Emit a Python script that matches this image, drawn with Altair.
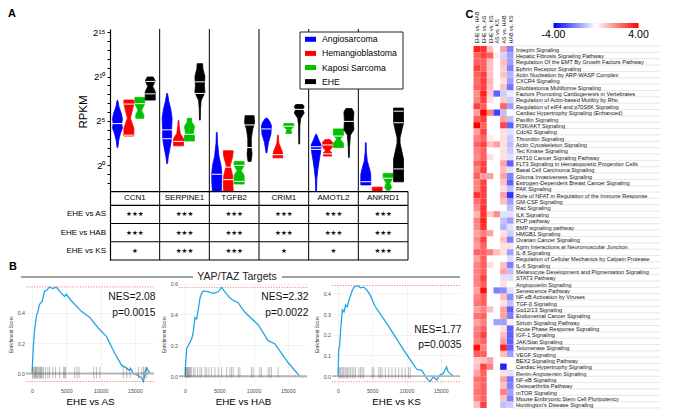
import json
import altair as alt
import pandas as pd

# ======================= Panel A data =======================
GENES = ["CCN1", "SERPINE1", "TGFB2", "CRIM1", "AMOTL2", "ANKRD1"]
GROUPS = ["Angiosarcoma", "Hemangioblastoma", "Kaposi Sarcoma", "EHE"]
GROUP_COLORS = ["#0000ff", "#ff0000", "#00c000", "#000000"]

# violin outlines: one list per group, points (log2 RPKM, relative half-width), top to bottom
VIOLIN_CCN1 = [
    [(7.3, 0.08), (6.6, 0.3), (5.8, 0.8), (5.2, 1.0), (4.7, 0.85), (4.2, 1.0), (3.6, 0.6), (2.8, 0.25), (2.0, 0.08)],
    [(7.35, 1.0), (6.9, 1.0), (5.3, 0.3), (4.2, 1.0), (3.3, 1.0)],
    [(7.65, 1.0), (6.95, 1.0), (6.2, 0.35), (5.7, 0.8), (5.3, 0.8)],
    [(9.95, 0.6), (9.5, 1.0), (8.9, 0.5), (8.3, 1.0), (7.35, 1.0)],
]
VIOLIN_SERPINE1 = [
    [(8.1, 0.08), (7.2, 0.35), (6.3, 0.75), (5.3, 1.0), (4.0, 0.9), (3.0, 0.9), (2.0, 0.6), (1.0, 0.25), (0.2, 0.08)],
    [(5.05, 0.08), (4.5, 0.12), (3.6, 0.35), (3.0, 1.0), (2.2, 1.0)],
    [(5.3, 0.45), (4.9, 0.45), (4.4, 1.0), (3.6, 0.8), (3.3, 1.0), (2.75, 1.0)],
    [(11.45, 0.55), (10.9, 0.6), (10.0, 1.0), (9.0, 0.9), (8.2, 1.0), (7.3, 0.25), (6.3, 0.12), (5.1, 0.08)],
]
VIOLIN_TGFB2 = [
    [(3.7, 0.08), (2.5, 0.15), (1.0, 0.45), (0.0, 0.85), (-0.8, 1.0), (-1.8, 1.0), (-2.9, 0.9)],
    [(1.65, 1.0), (1.0, 0.9), (0.0, 0.4), (-1.2, 0.9), (-2.9, 1.0)],
    [(0.45, 1.0), (0.0, 1.0), (-0.6, 0.4), (-1.1, 1.0), (-2.1, 1.0)],
    [(5.6, 0.9), (4.8, 1.0), (4.0, 0.6), (3.0, 0.35), (2.0, 0.35), (1.3, 0.5), (0.45, 0.3)],
]
VIOLIN_CRIM1 = [
    [(5.3, 0.2), (4.9, 0.7), (4.5, 1.0), (3.5, 0.9), (2.6, 0.4), (1.4, 0.08)],
    [(3.4, 0.08), (2.5, 0.2), (1.5, 0.9), (0.85, 1.0)],
    [(4.7, 1.0), (4.35, 1.0), (4.05, 0.4), (3.6, 0.6)],
    [(6.85, 0.7), (6.6, 1.0), (6.3, 0.7), (5.9, 1.0), (5.3, 0.3), (4.5, 0.12), (2.4, 0.08)],
]
VIOLIN_AMOTL2 = [
    [(3.5, 0.08), (2.9, 0.5), (2.3, 1.0), (1.5, 0.9), (0.5, 0.6), (-0.5, 0.35), (-1.5, 0.15), (-2.9, 0.08)],
    [(2.9, 0.5), (2.6, 1.0), (2.0, 0.9), (1.65, 0.35), (1.45, 0.8), (1.05, 0.8)],
    [(4.1, 1.0), (3.4, 1.0), (2.95, 0.35), (2.5, 1.0), (2.0, 1.0)],
    [(6.4, 0.6), (6.0, 1.0), (5.0, 0.9), (4.0, 1.0), (3.4, 0.3), (2.0, 0.12), (0.9, 0.08)],
]
VIOLIN_ANKRD1 = [
    [(2.56, 0.08), (1.5, 0.12), (0.5, 0.3), (-0.5, 0.8), (-1.0, 1.0), (-2.2, 1.0)],
    [(-2.45, 1.0), (-2.95, 1.0)],
    [(-0.9, 1.0), (-1.45, 1.0), (-2.0, 0.35), (-2.5, 0.7), (-2.8, 0.3)],
    [(6.45, 1.0), (4.8, 1.0), (3.1, 0.3), (2.5, 0.3), (0.7, 1.0), (-1.85, 1.0)],
]
# white median / quartile marks inside the violins (log2 RPKM)
WHITE_CCN1 = [[4.7], [6.9, 3.4], [6.95], [9.45, 8.05]]
WHITE_SERPINE1 = [[4.0, 3.0], [2.7], [3.5], [9.4, 8.1]]
WHITE_TGFB2 = [[-1.0], [-0.2, -1.6], [0.0, -1.8], [4.55, 2.0]]
WHITE_CRIM1 = [[4.1], [1.2], [4.4], [6.3]]
WHITE_AMOTL2 = [[2.1, 1.8], [2.3, 1.3], [3.3], [4.95]]
WHITE_ANKRD1 = [[-1.84], [], [-1.45], [6.1, 4.8, -0.4]]

VIOLINS = [VIOLIN_CCN1, VIOLIN_SERPINE1, VIOLIN_TGFB2, VIOLIN_CRIM1, VIOLIN_AMOTL2, VIOLIN_ANKRD1]
WHITES = [WHITE_CCN1, WHITE_SERPINE1, WHITE_TGFB2, WHITE_CRIM1, WHITE_AMOTL2, WHITE_ANKRD1]

TABLE_ROWS = ["EHE vs AS", "EHE vs HAB", "EHE vs KS"]
STARS_EHE_VS_AS = [3, 3, 3, 3, 3, 3]
STARS_EHE_VS_HAB = [3, 3, 3, 3, 3, 3]
STARS_EHE_VS_KS = [1, 3, 3, 1, 1, 3]

# ======================= Panel B data =======================
AS_RANK = [0, 98, 196, 343, 490, 686, 833, 1078, 1470, 1813, 2156, 2548, 3038, 3528, 4018, 4263, 4753,
           4998, 5243, 5733, 7203, 8428, 9653, 10878, 12103, 13083, 13573, 14210, 14406, 14798, 15386,
           16023, 16268, 16513, 16758, 17003, 17248]
AS_ES = [0, 0.095, 0.18, 0.275, 0.328, 0.39, 0.40, 0.455, 0.476, 0.54, 0.55, 0.571, 0.56, 0.57, 0.544,
         0.53, 0.508, 0.523, 0.508, 0.48, 0.41, 0.37, 0.30, 0.243, 0.13, 0.053, 0.042, 0.021, 0.032, 0.0,
         -0.011, -0.032, -0.053, 0.011, 0.036, 0.015, 0.0]
AS_HITS = [98, 245, 392, 490, 588, 686, 833, 980, 1127, 1225, 1372, 1470, 1666, 1960, 2303, 2548, 3038,
           3430, 4018, 4606, 4753, 4900, 6223, 6566, 6860, 9016, 9408, 9898, 13328, 13818, 14308, 15533,
           16023, 16268, 16513, 16758]

HAB_RANK = [0, 97, 243, 485, 728, 970, 1213, 1455, 1698, 1940, 2183, 2425, 2668, 3395, 4123, 4850, 5335,
            5820, 6548, 7275, 7760, 8730, 10670, 12125, 13095, 13580, 15035, 16733, 17300]
HAB_ES = [0, 0.088, 0.18, 0.2, 0.22, 0.24, 0.29, 0.38, 0.37, 0.435, 0.506, 0.537, 0.553, 0.547, 0.537,
          0.547, 0.575, 0.547, 0.506, 0.486, 0.476, 0.414, 0.333, 0.23, 0.21, 0.18, 0.088, 0.0, -0.006]
HAB_HITS = [49, 146, 243, 340, 437, 534, 631, 776, 922, 1213, 1455, 1843, 2183, 2425, 2910, 3153, 3492,
            3880, 4365, 4850, 5335, 6063, 6548, 6790, 7033, 7760, 8003, 9700, 9943, 10913, 11155, 12125,
            12368, 12610, 13580]

KS_RANK = [0, 97, 242, 386, 628, 869, 1111, 1352, 1594, 1835, 2077, 2318, 2801, 3284, 3767, 4250, 4733,
           5216, 5458, 7390, 9805, 10771, 11495, 12220, 12944, 13427, 13910, 14393, 14876, 15359, 15842,
           16084, 16808]
KS_ES = [0, 0.13, 0.146, 0.225, 0.32, 0.31, 0.343, 0.335, 0.367, 0.39, 0.414, 0.43, 0.438, 0.427, 0.43,
         0.414, 0.39, 0.351, 0.335, 0.24, 0.115, 0.068, 0.033, 0.028, -0.011, -0.027, -0.003, -0.019, 0.005,
         0.013, 0.044, 0.02, 0.0]
KS_HITS = [145, 290, 435, 628, 821, 1014, 1208, 1401, 1594, 1835, 2077, 2318, 2560, 3043, 3284, 3526, 3767,
           4975, 5216, 5941, 6182, 6424, 6907, 7390, 7873, 8356, 8839, 9322, 9805, 10288, 10529]

COMPARISONS = ["EHE vs AS", "EHE vs HAB", "EHE vs KS"]
NES = [2.08, 2.32, 1.77]
PVAL = [0.0015, 0.0022, 0.0035]

# ======================= Panel C data =======================
PATHWAYS = [
    "Integrin Signaling", "Hepatic Fibrosis Signaling Pathway",
    "Regulation Of the EMT By Growth Factors Pathway", "Ephrin Receptor Signaling",
    "Actin Nucleation by ARP-WASP Complex", "CXCR4 Signaling", "Glioblastoma Multiforme Signaling",
    "Factors Promoting Cardiogenesis in Vertebrates", "Regulation of Actin-based Motility by Rho",
    "Regulation of eIF4 and p70S6K Signaling", "Cardiac Hypertrophy Signaling (Enhanced)",
    "Paxillin Signaling", "PI3K/AKT Signaling", "Cdc42 Signaling", "Thrombin Signaling",
    "Actin Cytoskeleton Signaling", "Tec Kinase Signaling", "FAT10 Cancer Signaling Pathway",
    "FLT3 Signaling in Hematopoietic Progenitor Cells", "Basal Cell Carcinoma Signaling",
    "Glioma Invasiveness Signaling", "Estrogen-Dependent Breast Cancer Signaling", "PAK Signaling",
    "Role of NFAT in Regulation of the Immune Response", "GM-CSF Signaling", "Rac Signaling",
    "ILK Signaling", "PCP pathway", "BMP signaling pathway", "HMGB1 Signaling",
    "Ovarian Cancer Signaling", "Agrin Interactions at Neuromuscular Junction", "IL-8 Signaling",
    "Regulation of Cellular Mechanics by Calpain Protease", "IL-6 Signaling",
    "Melanocyte Development and Pigmentation Signaling", "STAT3 Pathway", "Angiopoietin Signaling",
    "Senescence Pathway", "NF-κB Activation by Viruses", "TGF-β Signaling", "Gα12/13 Signaling",
    "Endometrial Cancer Signaling", "Sirtuin Signaling Pathway", "Acute Phase Response Signaling",
    "IGF-1 Signaling", "JAK/Stat Signaling", "Telomerase Signaling", "VEGF Signaling",
    "BEX2 Signaling Pathway", "Cardiac Hypertrophy Signaling", "Renin-Angiotensin Signaling",
    "NF-κB Signaling", "Osteoarthritis Pathway", "mTOR Signaling",
    "Mouse Embryonic Stem Cell Pluripotency", "Huntington's Disease Signaling",
]
HEAT_COLUMNS = ["EHE vs. HAB", "EHE vs. AS", "EHE vs. KS", "AS vs. KS", "AS vs. HAB", "HAB vs. KS"]
HEAT_LIMITS = [-4.0, 4.0]
HEAT_COLORS = ["#0000ff", "#ffffff", "#ff0000"]
EHE_VS_HAB = [3.5, 2.5, 2.5, 3.0, 2.5, 2.3, 2.5, 1.8, 2.0, 3.0,
              1.5, 2.5, 4.0, 1.5, 2.0, 2.5, 2.0, 1.8, 2.5, 2.0,
              2.5, 2.0, 2.0, 3.2, 2.2, 1.8, 1.2, 2.0, 1.8, 1.5,
              1.8, 1.5, 2.5, 1.5, 2.0, 2.0, 2.0, 2.0, 1.5, 2.0,
              2.2, 1.5, 2.2, 1.5, 2.0, 2.2, 2.0, 3.8, 2.5, 0.8,
              1.0, 1.5, 2.2, 2.0, 2.2, 2.0, 1.0]
EHE_VS_AS = [3.2, 3.0, 2.5, 2.5, 3.0, 3.0, 3.0, 3.5, 3.0, 2.5,
             4.0, 3.0, 2.5, 3.0, 2.5, 3.0, 2.5, 2.5, 3.0, 3.0,
             1.5, 3.0, 3.0, 3.0, 3.0, 3.2, 3.2, 3.5, 3.2, 2.0,
             3.0, 2.5, 2.5, 2.5, 2.5, 2.5, 3.0, 2.5, 3.8, 2.5,
             2.5, 2.0, 2.5, 2.0, 2.5, 3.0, 2.5, 2.0, 2.5, 1.0,
             3.0, 2.5, 2.5, 2.5, 2.5, 2.5, 3.0]
EHE_VS_KS = [1.0, 2.5, 1.0, 1.0, 1.0, 1.2, 1.0, 0.8, 0.5, 0.0,
             2.0, 0.0, 0.0, 0.0, 0.3, 1.0, 0.0, 0.5, 0.0, 0.0,
             1.5, 0.0, 0.0, 0.0, 0.0, 0.0, 0.8, 0.0, 0.0, 1.5,
             0.0, 0.0, 2.0, 0.0, 0.5, 0.0, 0.0, 0.0, 0.0, 0.0,
             0.0, 1.0, 0.0, 0.0, 0.0, 0.0, 0.0, 0.0, 0.0, 1.5,
             2.0, 0.0, 0.0, 0.0, 0.0, 0.0, 0.0]
AS_VS_KS = [0.0, 0.3, 0.0, 0.0, 0.0, 0.0, 0.0, -2.5, 0.0, 0.0,
            -3.0, 0.0, 0.0, 0.0, 0.0, 1.5, 0.0, 0.0, 0.0, 0.0,
            0.0, 0.0, 0.0, 0.0, 0.0, 0.0, 1.8, 0.0, 0.0, 0.0,
            0.0, 0.0, 1.0, 0.0, 0.0, 0.0, 0.0, 0.0, -2.0, 0.0,
            0.0, 0.0, 0.0, -1.5, 0.0, 0.0, 0.0, 0.0, 0.0, 0.0,
            0.0, 0.0, 0.0, 0.0, 0.0, 0.0, 0.0]
AS_VS_HAB = [1.5, -0.7, 1.0, 0.8, 1.0, 0.5, 1.0, -0.8, 0.8, 2.5,
             -1.0, 1.5, 3.0, 0.5, 0.5, 0.5, 0.5, 0.5, 1.5, 1.0,
             1.5, 1.0, 0.5, 1.5, 1.0, 0.0, -0.5, -1.0, -1.2, 0.5,
             1.0, 0.5, 0.5, 0.0, 1.0, 1.5, -0.5, 0.5, -1.8, 1.0,
             0.5, 1.5, 1.5, -1.5, 0.5, 1.0, 1.5, 3.5, 1.0, 0.0,
             -3.5, 0.5, 1.5, 1.0, 2.0, 1.0, -1.0]
HAB_VS_KS = [-2.0, -1.5, -1.5, -2.0, -1.2, -1.5, -2.2, -0.3, -0.8, -1.5,
             0.0, -1.0, -2.5, -0.5, -0.8, -1.0, -0.8, -0.5, -2.5, -0.5,
             -2.0, -2.5, -1.0, -3.2, -1.5, -1.0, -0.5, -1.5, -0.5, -0.8,
             -2.0, 0.5, -1.5, -0.5, -2.0, -1.0, -0.5, 0.0, -0.5, -1.8,
             -1.0, -2.5, -2.0, 0.3, -2.5, -2.5, -2.5, -2.5, -1.5, 0.0,
             0.0, -0.5, -2.2, -2.0, -1.5, -2.0, -0.8]
HEAT_VALUES = [EHE_VS_HAB, EHE_VS_AS, EHE_VS_KS, AS_VS_KS, AS_VS_HAB, HAB_VS_KS]

FONT = "Liberation Sans"
one = pd.DataFrame({"a": [0]})

# ======================= Panel A chart =======================
A_W, A_H = 382, 231
A_LEFT = 84            # pixel position of the y axis inside the panel
STEP_A = (A_W - A_LEFT) / 6
Y_TOP, Y_BOT = 15.35, -10.65
AXIS_BOTTOM = -2.95
GENE_ROW_H = 1.55
ROW_H = (AXIS_BOTTOM - GENE_ROW_H - Y_BOT) / 3
OFFSETS = [0.15, 0.38, 0.60, 0.81]
HW = 0.1

XA = alt.Scale(domain=[-A_LEFT / STEP_A, 6], nice=False, zero=False)
YA = alt.Scale(domain=[Y_BOT, Y_TOP], nice=False, zero=False)
label_expr = ("datum.value == 0 ? '2⁰' : datum.value == 5 ? '2⁵' : "
              "datum.value == 10 ? '2¹⁰' : datum.value == 15 ? '2¹⁵' : ''")
AY = alt.Axis(values=list(range(-2, 16)), labelExpr=label_expr, tickSize=3, tickColor="black",
              domainColor="black", domainWidth=1.2, tickWidth=1, labelFontSize=9.5, labelPadding=2,
              labelColor="black", grid=False, title=None, labelOverlap=False, labelFlush=False,
              offset=-A_LEFT)


def ya(f):
    return alt.Y(f, scale=YA, axis=AY)


def xa(f):
    return alt.X(f, scale=XA, axis=None)


prows, wrows = [], []
for gi, gene in enumerate(GENES):
    for k in range(4):
        c = gi + OFFSETS[k]
        prof = VIOLINS[gi][k]
        pts = [(c - w * HW, lvl) for lvl, w in prof] + [(c + w * HW, lvl) for lvl, w in reversed(prof)]
        pts.append(pts[0])
        for s, (xv, lv) in enumerate(pts):
            prows.append(dict(vid=f"{gene}-{k}", group=GROUPS[k], x=xv, lvl=lv, s=s))
        for lvl in WHITES[gi][k]:
            wrows.append(dict(lvl=lvl, xl=c - HW, xr=c + HW))
pdf = pd.DataFrame(prows)
wdf = pd.DataFrame(wrows)

group_color = alt.Color("group:N", scale=alt.Scale(domain=GROUPS, range=GROUP_COLORS), legend=None)
violin_fill = alt.Chart(pdf).mark_line(filled=True).encode(
    x=xa("x:Q"), y=ya("lvl:Q"), color=group_color, detail="vid:N", order=alt.Order("s:Q"))
violin_edge = alt.Chart(pdf).mark_line(strokeWidth=0.8).encode(
    x=xa("x:Q"), y=ya("lvl:Q"), color=group_color, detail="vid:N", order=alt.Order("s:Q"))
whites = alt.Chart(wdf).mark_rule(color="white", strokeWidth=1).encode(
    y=ya("lvl:Q"), x=xa("xl:Q"), x2="xr:Q")

sep_df = pd.DataFrame({"x": [1, 2, 3, 4, 5], "y": Y_TOP, "y2": Y_BOT})
seps = alt.Chart(sep_df).mark_rule(color="black", strokeWidth=1).encode(
    x=xa("x:Q"), y=ya("y:Q"), y2="y2:Q")
rb_df = pd.DataFrame({"x": [6], "y": [AXIS_BOTTOM], "y2": [Y_BOT]})
rborder = alt.Chart(rb_df).mark_rule(color="black", strokeWidth=1).encode(
    x=xa("x:Q"), y=ya("y:Q"), y2="y2:Q")
hl_y = [AXIS_BOTTOM, AXIS_BOTTOM - GENE_ROW_H] + [AXIS_BOTTOM - GENE_ROW_H - (i + 1) * ROW_H for i in range(3)]
hl_df = pd.DataFrame({"y": hl_y, "x": 0, "x2": 6})
hlines = alt.Chart(hl_df).mark_rule(color="black", strokeWidth=1.1).encode(
    y=ya("y:Q"), x=xa("x:Q"), x2="x2:Q")

gene_df = pd.DataFrame({"t": GENES, "x": [i + 0.5 for i in range(6)], "y": AXIS_BOTTOM - GENE_ROW_H / 2})
gene_txt = alt.Chart(gene_df).mark_text(fontSize=8, baseline="middle", color="black").encode(
    x=xa("x:Q"), y=ya("y:Q"), text="t:N")

star_rows = []
for r, counts in enumerate([STARS_EHE_VS_AS, STARS_EHE_VS_HAB, STARS_EHE_VS_KS]):
    yc = AXIS_BOTTOM - GENE_ROW_H - (r + 0.5) * ROW_H
    for gi, n in enumerate(counts):
        star_rows.append(dict(t="★" * n, x=gi + 0.5, y=yc))
star_txt = alt.Chart(pd.DataFrame(star_rows)).mark_text(
    fontSize=6.5, baseline="middle", font="DejaVu Sans", color="#111").encode(
    x=xa("x:Q"), y=ya("y:Q"), text="t:N")

rl_df = pd.DataFrame({"t": TABLE_ROWS,
                      "y": [AXIS_BOTTOM - GENE_ROW_H - (r + 0.5) * ROW_H for r in range(3)]})
row_txt = alt.Chart(rl_df).mark_text(fontSize=8, align="right", baseline="middle", color="black").encode(
    x=alt.value(A_LEFT - 4), y=ya("y:Q"), text="t:N")

letterA = alt.Chart(pd.DataFrame({"t": ["A"]})).mark_text(
    fontSize=11, fontWeight="bold", align="left", baseline="top").encode(
    x=alt.value(-18), y=alt.value(-21), text="t:N")
rpkm = alt.Chart(pd.DataFrame({"t": ["RPKM"]})).mark_text(
    fontSize=11.5, angle=270, align="center", baseline="middle").encode(
    x=alt.value(58), y=alt.value(83), text="t:N")

# hand-built legend box for panel A (inside the plot, top right)
LEG_X, LEG_Y, LEG_W, LEG_H, LEG_ROW = 274, 3, 103, 57, 14.1
legend_layers = [alt.Chart(one).mark_rect(fill="white", stroke="#222", strokeWidth=1).encode(
    x=alt.value(LEG_X), x2=alt.value(LEG_X + LEG_W), y=alt.value(LEG_Y), y2=alt.value(LEG_Y + LEG_H))]
for k, (g, col) in enumerate(zip(GROUPS, GROUP_COLORS)):
    yc = LEG_Y + 7.3 + k * LEG_ROW
    legend_layers.append(alt.Chart(one).mark_rect(fill=col).encode(
        x=alt.value(LEG_X + 5), x2=alt.value(LEG_X + 16), y=alt.value(yc - 2.5), y2=alt.value(yc + 2.5)))
    legend_layers.append(alt.Chart(pd.DataFrame({"t": [g]})).mark_text(
        fontSize=8.7, align="left", baseline="middle", color="black").encode(
        x=alt.value(LEG_X + 22), y=alt.value(yc), text="t:N"))

chartA = alt.layer(violin_fill, violin_edge, whites, seps, rborder, hlines, gene_txt, star_txt, row_txt,
                   letterA, rpkm, *legend_layers).properties(width=A_W, height=A_H)

# ======================= Panel B charts =======================
G_W, G_H = 128, 102
XG = alt.Scale(domain=[-880, 17800], nice=False, zero=False)


def gsea(rank, es, hits, title, ydom, yvals, nes, pval, text_y, hit_px, extra=()):
    YS = alt.Scale(domain=ydom, nice=False, zero=False)
    ppu = G_H / (ydom[1] - ydom[0])
    xaxis = alt.Axis(values=[0, 5000, 10000, 15000], format="d", title=title, labelFontSize=5.3,
                     labelColor="#4d4d4d", domain=False, ticks=False, labelPadding=3,
                     gridColor="#ebebeb", gridWidth=0.6, titleFontSize=9.8, titleFontWeight="normal",
                     titleColor="black", titlePadding=3)
    yaxis = alt.Axis(values=yvals, format=".1f", title="Enrichment Score", labelFontSize=5.3,
                     labelColor="#4d4d4d", domain=False, ticks=False, labelPadding=1.5,
                     gridColor="#ebebeb", gridWidth=0.6, titleFontSize=4.6, titleFontWeight="normal",
                     titleColor="#333", titlePadding=4)
    cdf = pd.DataFrame({"rank": rank, "es": es, "i": list(range(len(rank)))})
    curve = alt.Chart(cdf).mark_line(color="#1fa6e6", strokeWidth=1.3).encode(
        x=alt.X("rank:Q", scale=XG, axis=xaxis), y=alt.Y("es:Q", scale=YS, axis=yaxis), order="i:Q")
    ext = alt.Chart(pd.DataFrame({"es": [max(es), min(es)]})).mark_rule(
        color="#ee6a6a", strokeDash=[1.2, 1.5], strokeWidth=0.8).encode(
        y=alt.Y("es:Q", scale=YS, axis=yaxis))
    zero = alt.Chart(pd.DataFrame({"es": [0.0]})).mark_rule(color="#b3b3b3", strokeWidth=1.8).encode(
        y=alt.Y("es:Q", scale=YS, axis=yaxis))
    hdf = pd.DataFrame({"rank": hits, "lo": -hit_px[1] / ppu, "hi": hit_px[0] / ppu})
    hit = alt.Chart(hdf).mark_rule(color="#444", strokeWidth=0.5, opacity=0.7).encode(
        x=alt.X("rank:Q", scale=XG, axis=xaxis), y=alt.Y("lo:Q", scale=YS, axis=yaxis), y2="hi:Q")
    t1 = alt.Chart(pd.DataFrame({"t": [f"NES={nes:.2f}"]})).mark_text(
        fontSize=10.3, align="right", baseline="middle", color="#111").encode(
        x=alt.value(G_W + 1.5), y=alt.value(text_y[0]), text="t:N")
    t2 = alt.Chart(pd.DataFrame({"t": [f"p={pval:.4f}"]})).mark_text(
        fontSize=10.3, align="right", baseline="middle", color="#111").encode(
        x=alt.value(G_W + 1.5), y=alt.value(text_y[1]), text="t:N")
    return alt.layer(curve, ext, zero, hit, t1, t2, *extra).properties(width=G_W, height=G_H)


letterB = alt.Chart(pd.DataFrame({"t": ["B"]})).mark_text(
    fontSize=11, fontWeight="bold", align="left", baseline="top").encode(
    x=alt.value(-17), y=alt.value(-22), text="t:N")
title_txt = alt.Chart(pd.DataFrame({"t": ["YAP/TAZ Targets"]})).mark_text(
    fontSize=10.5, align="center", baseline="middle", color="#222").encode(
    x=alt.value(58), y=alt.value(-6), text="t:N")
title_l = alt.Chart(one).mark_rule(color="#444", strokeWidth=1.2).encode(
    x=alt.value(-158), x2=alt.value(14), y=alt.value(-6))
title_r = alt.Chart(one).mark_rule(color="#444", strokeWidth=1.2).encode(
    x=alt.value(103), x2=alt.value(281), y=alt.value(-6))

g1 = gsea(AS_RANK, AS_ES, AS_HITS, COMPARISONS[0], [-0.076, 0.597], [0.0, 0.2, 0.4],
          NES[0], PVAL[0], (13.5, 30), (6.7, 5), extra=(letterB,))
g2 = gsea(HAB_RANK, HAB_ES, HAB_HITS, COMPARISONS[1], [-0.058, 0.604], [0.0, 0.2, 0.4, 0.6],
          NES[1], PVAL[1], (13.5, 30), (9, 1.5), extra=(title_txt, title_l, title_r))
g3 = gsea(KS_RANK, KS_ES, KS_HITS, COMPARISONS[2], [-0.043, 0.45], [0.0, 0.1, 0.2, 0.3, 0.4],
          NES[2], PVAL[2], (47, 61.5), (9, 2.3))
rowB = alt.hconcat(g1, g2, g3, spacing=25, bounds="flush")

# ======================= Panel C chart =======================
N_ROWS = len(PATHWAYS)
C_TOP = 17
C_ROWS_H = 362
STEP_C = C_ROWS_H / N_ROWS
C_W, C_H = 40, C_TOP + C_ROWS_H
XEND = 28.0
XH = alt.Scale(domain=[0, 6], nice=False, zero=False)
YH = alt.Scale(domain=[-C_TOP / STEP_C, N_ROWS], reverse=True, nice=False, zero=False)
col_expr = json.dumps(HEAT_COLUMNS) + "[floor(datum.value)]"
row_expr = json.dumps(PATHWAYS, ensure_ascii=False) + "[floor(datum.value)]"
AXC = alt.Axis(orient="top", values=[j + 0.5 for j in range(6)], labelExpr=col_expr, labelAngle=270,
               labelAlign="left", labelBaseline="middle", labelPadding=3, domain=False, ticks=False,
               grid=False, title=None, labelFontSize=5.4, labelColor="#111", offset=-C_TOP,
               labelOverlap=False, labelFlush=False)
AYC = alt.Axis(orient="right", values=[i + 0.5 for i in range(N_ROWS)], labelExpr=row_expr,
               labelFontSize=5.6, labelPadding=2, ticks=False, domain=False, title=None,
               labelLimit=0, labelColor="#111", grid=False, labelOverlap=False, labelFlush=False,
               labelAlign="left", labelBaseline="middle")
hm = []
for j, arr in enumerate(HEAT_VALUES):
    for i, name in enumerate(PATHWAYS):
        hm.append(dict(pathway=name, c0=j, c1=j + 1, r0=i, r1=i + 1, v=arr[i]))
rects = alt.Chart(pd.DataFrame(hm)).mark_rect().encode(
    x=alt.X("c0:Q", scale=XH, axis=AXC),
    x2="c1:Q",
    y=alt.Y("r0:Q", scale=YH, axis=AYC),
    y2="r1:Q",
    color=alt.Color("v:Q", scale=alt.Scale(domain=[HEAT_LIMITS[0], 0, HEAT_LIMITS[1]], range=HEAT_COLORS,
                                           interpolate="rgb"), legend=None),
)
lines_df = pd.DataFrame({"r": list(range(N_ROWS + 1)), "x0": 6, "x1": XEND})
row_lines = alt.Chart(lines_df).mark_rule(color="#cfcfcf", strokeWidth=0.5).encode(
    y=alt.Y("r:Q", scale=YH, axis=AYC),
    x=alt.X("x0:Q", scale=XH, axis=AXC), x2="x1:Q")
letterC = alt.Chart(pd.DataFrame({"t": ["C"]})).mark_text(
    fontSize=11, fontWeight="bold", align="left", baseline="top").encode(
    x=alt.value(-8), y=alt.value(C_TOP - 37), text="t:N")

# hand-built colour bar for the heatmap
GB_X, GB_Y, GB_W, GB_H = 80, C_TOP - 23, 85, 5
grad = alt.Gradient(gradient="linear", x1=0, x2=1, y1=0, y2=0,
                    stops=[alt.GradientStop(color=HEAT_COLORS[0], offset=0),
                           alt.GradientStop(color=HEAT_COLORS[1], offset=0.5),
                           alt.GradientStop(color=HEAT_COLORS[2], offset=1)])
gbar = alt.Chart(one).mark_rect(fill=grad).encode(
    x=alt.value(GB_X), x2=alt.value(GB_X + GB_W), y=alt.value(GB_Y), y2=alt.value(GB_Y + GB_H))
glab_lo = alt.Chart(pd.DataFrame({"t": [f"{HEAT_LIMITS[0]:.2f}"]})).mark_text(
    fontSize=10.5, align="center", baseline="top", color="black").encode(
    x=alt.value(GB_X), y=alt.value(GB_Y + GB_H + 1.5), text="t:N")
glab_hi = alt.Chart(pd.DataFrame({"t": [f"{HEAT_LIMITS[1]:.2f}"]})).mark_text(
    fontSize=10.5, align="center", baseline="top", color="black").encode(
    x=alt.value(GB_X + GB_W), y=alt.value(GB_Y + GB_H + 1.5), text="t:N")

chartC = alt.layer(rects, row_lines, letterC, gbar, glab_lo, glab_hi).properties(width=C_W, height=C_H)

# ======================= Assemble =======================
left = alt.vconcat(chartA, rowB, spacing=0)
chart = alt.hconcat(left, chartC, spacing=3.5, padding=0).resolve_scale(color="independent").configure(
    font=FONT).configure_view(stroke=None)

chart.save("out.html", embed_options={"renderer": "svg", "actions": False})
